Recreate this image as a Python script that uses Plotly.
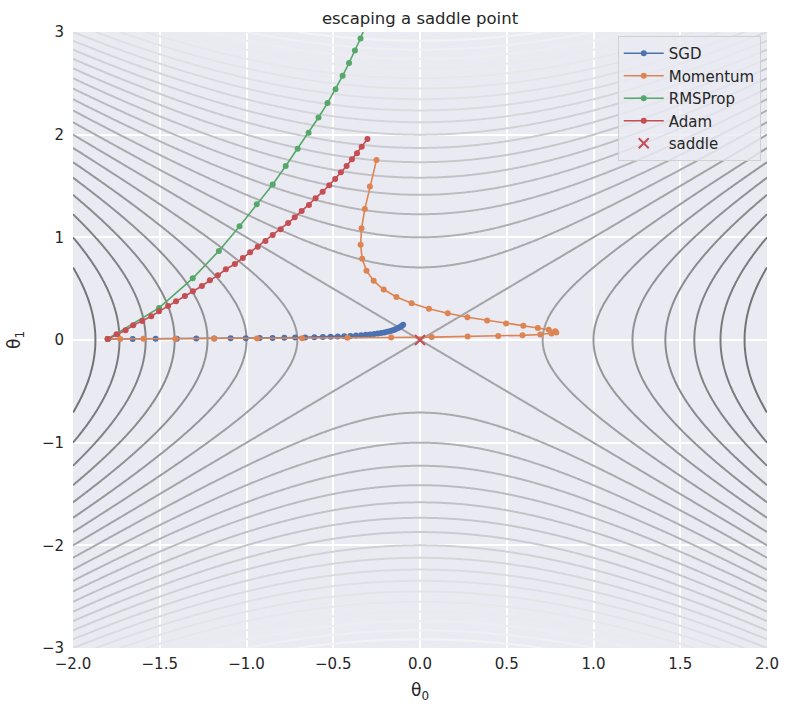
import numpy as np
import plotly.graph_objects as go

# ---- data ----
sgd_x = [-1.8, -1.656, -1.5235, -1.4016, -1.2895, -1.1863, -1.0914, -1.0041, -0.9238, -0.8499,
         -0.7819, -0.7193, -0.6618, -0.6089, -0.5601, -0.5153, -0.4741, -0.4362, -0.4013, -0.3692,
         -0.3396, -0.3125, -0.2875, -0.2645, -0.2433, -0.2239, -0.2059, -0.1895, -0.1743, -0.1604,
         -0.1475, -0.1357, -0.1249, -0.1149, -0.1057, -0.0972]
sgd_y = [0.01, 0.0108, 0.0117, 0.0126, 0.0136, 0.0147, 0.0159, 0.0171, 0.0185, 0.0200,
         0.0216, 0.0233, 0.0252, 0.0272, 0.0294, 0.0317, 0.0343, 0.0370, 0.0400, 0.0432,
         0.0466, 0.0503, 0.0544, 0.0587, 0.0634, 0.0685, 0.0740, 0.0799, 0.0863, 0.0932,
         0.1006, 0.1087, 0.1174, 0.1268, 0.1369, 0.1479]

mom_x = [-1.8, -1.728, -1.5941, -1.4098, -1.1875, -0.9400, -0.6796, -0.4181, -0.1660, 0.0675,
         0.2750, 0.4507, 0.5908, 0.6933, 0.7578, 0.7856, 0.7791, 0.7421, 0.6792, 0.5953,
         0.4961, 0.3869, 0.2731, 0.1599, 0.0515, -0.0481, -0.1358, -0.2093, -0.2671, -0.3084,
         -0.3332, -0.3423, -0.3367, -0.3182, -0.2889, -0.2509]
mom_y = [0.01, 0.0104, 0.0112, 0.0123, 0.0138, 0.0158, 0.0181, 0.0210, 0.0244, 0.0284,
         0.0332, 0.0388, 0.0455, 0.0532, 0.0624, 0.0731, 0.0856, 0.1004, 0.1176, 0.1379,
         0.1616, 0.1894, 0.2221, 0.2603, 0.3051, 0.3577, 0.4193, 0.4915, 0.5762, 0.6754,
         0.7917, 0.9281, 1.0880, 1.2753, 1.4950, 1.7525]

rms_x = [-1.8, -1.504, -1.310, -1.159, -1.040, -0.941, -0.849, -0.774, -0.705, -0.642,
         -0.585, -0.533, -0.487, -0.446, -0.409, -0.375, -0.343, -0.316]
rms_y = [0.01, 0.312, 0.601, 0.868, 1.108, 1.322, 1.515, 1.694, 1.862, 2.018,
         2.167, 2.308, 2.443, 2.573, 2.698, 2.819, 2.937, 3.05]

adam_x = [-1.8, -1.749, -1.697, -1.653, -1.601, -1.549, -1.504, -1.452, -1.406, -1.355,
          -1.309, -1.257, -1.211, -1.165, -1.119, -1.067, -1.021, -0.979, -0.935, -0.891,
          -0.849, -0.803, -0.760, -0.722, -0.682, -0.640, -0.602, -0.561, -0.523, -0.489,
          -0.456, -0.423, -0.392, -0.363, -0.336, -0.303]
adam_y = [0.01, 0.055, 0.094, 0.143, 0.185, 0.231, 0.279, 0.331, 0.377, 0.429,
          0.474, 0.526, 0.581, 0.630, 0.689, 0.740, 0.799, 0.854, 0.909, 0.964,
          1.023, 1.078, 1.140, 1.195, 1.256, 1.315, 1.380, 1.445, 1.507, 1.568,
          1.633, 1.695, 1.760, 1.820, 1.883, 1.958]

saddle_x = [0.0]
saddle_y = [0.0]

x_ticks = [-2.0, -1.5, -1.0, -0.5, 0.0, 0.5, 1.0, 1.5, 2.0]
y_ticks = [-3, -2, -1, 0, 1, 2, 3]

series_names = ["SGD", "Momentum", "RMSProp", "Adam"]
series_colors = ["#4C72B0", "#DD8452", "#55A868", "#C44E52"]

# ---- loss surface f = theta0^2 - theta1^2 ----
gx = np.linspace(-2, 2, 241)
gy = np.linspace(-3, 3, 361)
GX, GY = np.meshgrid(gx, gy)
Z = GX ** 2 - GY ** 2

fig = go.Figure()

fig.add_trace(go.Contour(
    x=gx, y=gy, z=Z,
    zmin=-9, zmax=4, zauto=False,
    contours=dict(start=-9, end=4, size=0.5, coloring="lines", showlabels=False),
    colorscale=[[0.0, "rgb(246,246,249)"], [0.25, "rgb(226,226,230)"],
                [0.5, "rgb(194,194,198)"], [0.7, "rgb(163,163,166)"],
                [0.85, "rgb(138,138,141)"], [1.0, "rgb(108,108,111)"]],
    line=dict(width=2, smoothing=1.0),
    showscale=False, showlegend=False, hoverinfo="skip",
))

for name, xs, ys, col in zip(series_names,
                             [sgd_x, mom_x, rms_x, adam_x],
                             [sgd_y, mom_y, rms_y, adam_y],
                             series_colors):
    fig.add_trace(go.Scatter(
        x=xs, y=ys, mode="lines+markers", name=name,
        line=dict(color=col, width=1.6),
        marker=dict(color=col, size=6),
    ))

fig.add_trace(go.Scatter(
    x=saddle_x, y=saddle_y, mode="markers", name="saddle",
    marker=dict(symbol="x-thin", size=10, color="#C44E52",
                line=dict(color="#C44E52", width=2)),
))

txt = "#262626"
fig.update_layout(
    width=791, height=713,
    margin=dict(l=73, r=22, t=32, b=65),
    paper_bgcolor="white", plot_bgcolor="#EAEAF2",
    font=dict(family="DejaVu Sans", size=15, color=txt),
    title=dict(text="escaping a saddle point", x=0.5, xanchor="center",
               xref="paper", y=1 - 18 / 713, yanchor="middle",
               font=dict(size=16.5, color=txt)),
    legend=dict(x=0.991, y=0.9935, xanchor="right", yanchor="top",
                bgcolor="rgba(234,234,242,0.8)", bordercolor="#d0d0d0", borderwidth=1,
                font=dict(size=15, color=txt), tracegroupgap=0, itemwidth=40),
    xaxis=dict(range=[-2, 2], tickvals=x_ticks, tickformat=".1f",
               showgrid=True, gridcolor="white", gridwidth=1.5,
               zeroline=False, ticks="", showline=False, ticklabelstandoff=5,
               tickfont=dict(size=15, color=txt),
               title=dict(text="θ<sub>0</sub>", font=dict(size=17, color=txt), standoff=12)),
    yaxis=dict(range=[-3, 3], tickvals=y_ticks,
               showgrid=True, gridcolor="white", gridwidth=1.5,
               zeroline=False, ticks="", showline=False, ticklabelstandoff=8,
               tickfont=dict(size=15, color=txt),
               title=dict(text="θ<sub>1</sub>", font=dict(size=17, color=txt), standoff=16)),
)

fig.write_html("out.html")
